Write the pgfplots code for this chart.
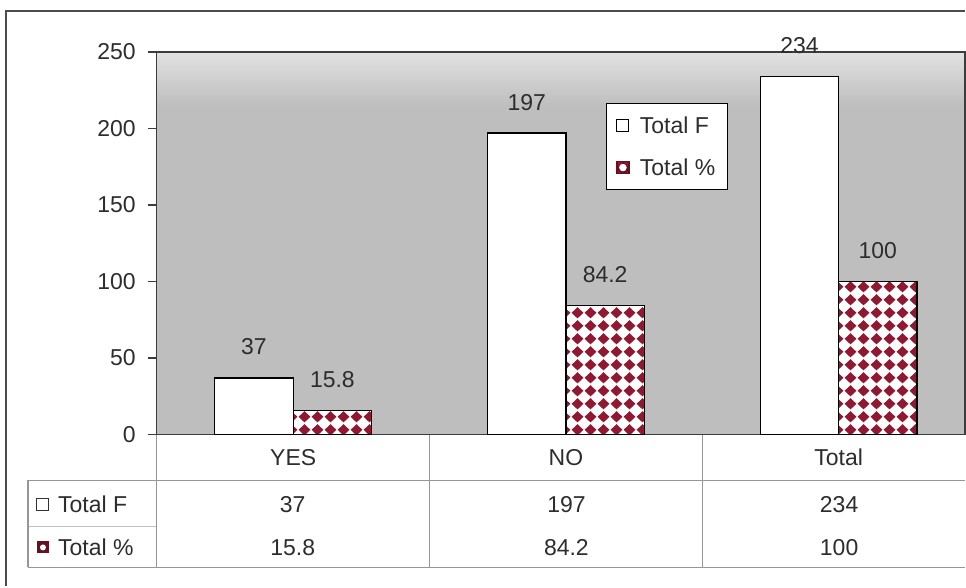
\documentclass[border=0pt]{standalone}
\usepackage{pgfplots}
\pgfplotsset{compat=1.18}
\usepackage{fontspec}
\setmainfont{Liberation Sans}
\usetikzlibrary{patterns}

\definecolor{maroonF}{RGB}{145,24,48}
\definecolor{txt}{RGB}{45,45,45}
\definecolor{bgmain}{RGB}{190,190,190}
\definecolor{bgtop}{RGB}{226,226,226}
\definecolor{tline}{RGB}{150,150,150}
\definecolor{axline}{RGB}{60,60,60}

\pgfdeclareverticalshading{bgshade}{100bp}{color(0bp)=(bgmain); color(68bp)=(bgmain); color(75bp)=(bgtop); color(100bp)=(bgtop)}

\pgfdeclarepatternformonly{mydiamonds}{\pgfpointorigin}{\pgfpoint{13pt}{12.7pt}}{\pgfpoint{13pt}{12.7pt}}{%
  \pgfpathmoveto{\pgfpoint{6.5pt}{0.6pt}}%
  \pgfpathlineto{\pgfpoint{12.4pt}{6.35pt}}%
  \pgfpathlineto{\pgfpoint{6.5pt}{12.1pt}}%
  \pgfpathlineto{\pgfpoint{0.6pt}{6.35pt}}%
  \pgfpathclose
  \pgfusepath{fill}}

\newcommand\fnt{\fontsize{23}{27}\selectfont}
\newcommand\legspace{\pgfpathmoveto{\pgfpointorigin}\pgfpathlineto{\pgfpoint{21pt}{0pt}}\pgfusepath{use as bounding box}}

\begin{document}
\begin{tikzpicture}
\fill[white] (0pt,0pt) rectangle (966pt,587pt);
\begin{axis}[
  at={(157pt,152pt)}, anchor=south west,
  scale only axis, width=809pt, height=383pt,
  xmin=-0.5, xmax=2.4634, ymin=0, ymax=250,
  ytick={0,50,...,250},
  xtick={0,1,2}, xticklabels={YES,NO,Total},
  xtick style={draw=none},
  ytick style={draw=axline, line width=1.2pt},
  major tick length=9pt, tick align=outside, tick pos=left,
  axis line style={draw=axline, line width=1.2pt},
  axis background/.style={shading=bgshade},
  /pgf/number format/assume math mode=true,
  ticklabel style={font=\fnt, text=txt},
  yticklabel style={inner sep=2pt, xshift=-10pt},
  xticklabel style={anchor=base, yshift=-22pt},
  ybar=0pt, bar width=78.5pt,
  clip=false,
  nodes near coords,
  every node near coord/.append style={font=\fnt, text=txt, anchor=base, yshift=23pt},
  legend style={at={(0.5563,0.8668)}, anchor=north west, draw=black, line width=1pt,
    fill=white, font=\fnt, text=txt, inner xsep=10pt, inner ysep=11pt, row sep=20pt},
  legend cell align=left,
]
\addplot[draw=black, line width=1.2pt, fill=white,
  legend image code/.code={\legspace\draw[black, line width=1pt, fill=white] (0pt,-6pt) rectangle (12pt,6pt);}]
  coordinates {(0,37) (1,197) (2,234)};
\addplot[draw=black, line width=1.2pt, fill=white,
  postaction={pattern=mydiamonds, pattern color=maroonF},
  legend image code/.code={\legspace\fill[maroonF!70!black] (0pt,-6pt) rectangle (12pt,6pt); \fill[white] (6pt,0pt) circle (3pt);}]
  coordinates {(0,15.8) (1,84.2) (2,100)};
\legend{Total F, Total \%}
\end{axis}
\begin{scope}[x=1pt, y=-1pt, yshift=587pt]
  \draw[tline, line width=1.2pt] (28,481) -- (966,481);
  \draw[tline, line width=1.2pt] (28,568) -- (966,568);
  \draw[tline!60, line width=0.8pt] (28,527) -- (157,527);
  \draw[tline, line width=1.2pt] (28,481) -- (28,568);
  \foreach \x in {157,430,703} \draw[tline, line width=1.2pt] (\x,435) -- (\x,568);
  \draw[black!80, line width=1pt, fill=white] (37,499) rectangle (49,511);
  \node[font=\fnt, text=txt, anchor=west, inner sep=0pt] at (58,505) {Total F};
  \fill[maroonF!70!black] (37,542) rectangle (49,554);
  \fill[white] (43,548) circle (3pt);
  \node[font=\fnt, text=txt, anchor=west, inner sep=0pt] at (58,548) {Total \%};
  \node[font=\fnt, text=txt] at (293,505) {37};
  \node[font=\fnt, text=txt] at (567,505) {197};
  \node[font=\fnt, text=txt] at (840,505) {234};
  \node[font=\fnt, text=txt] at (293,548) {15.8};
  \node[font=\fnt, text=txt] at (567,548) {84.2};
  \node[font=\fnt, text=txt] at (840,548) {100};
  \draw[black!70, line width=2pt] (6,587) -- (6,11) -- (966,11);
\end{scope}
\end{tikzpicture}
\end{document}
